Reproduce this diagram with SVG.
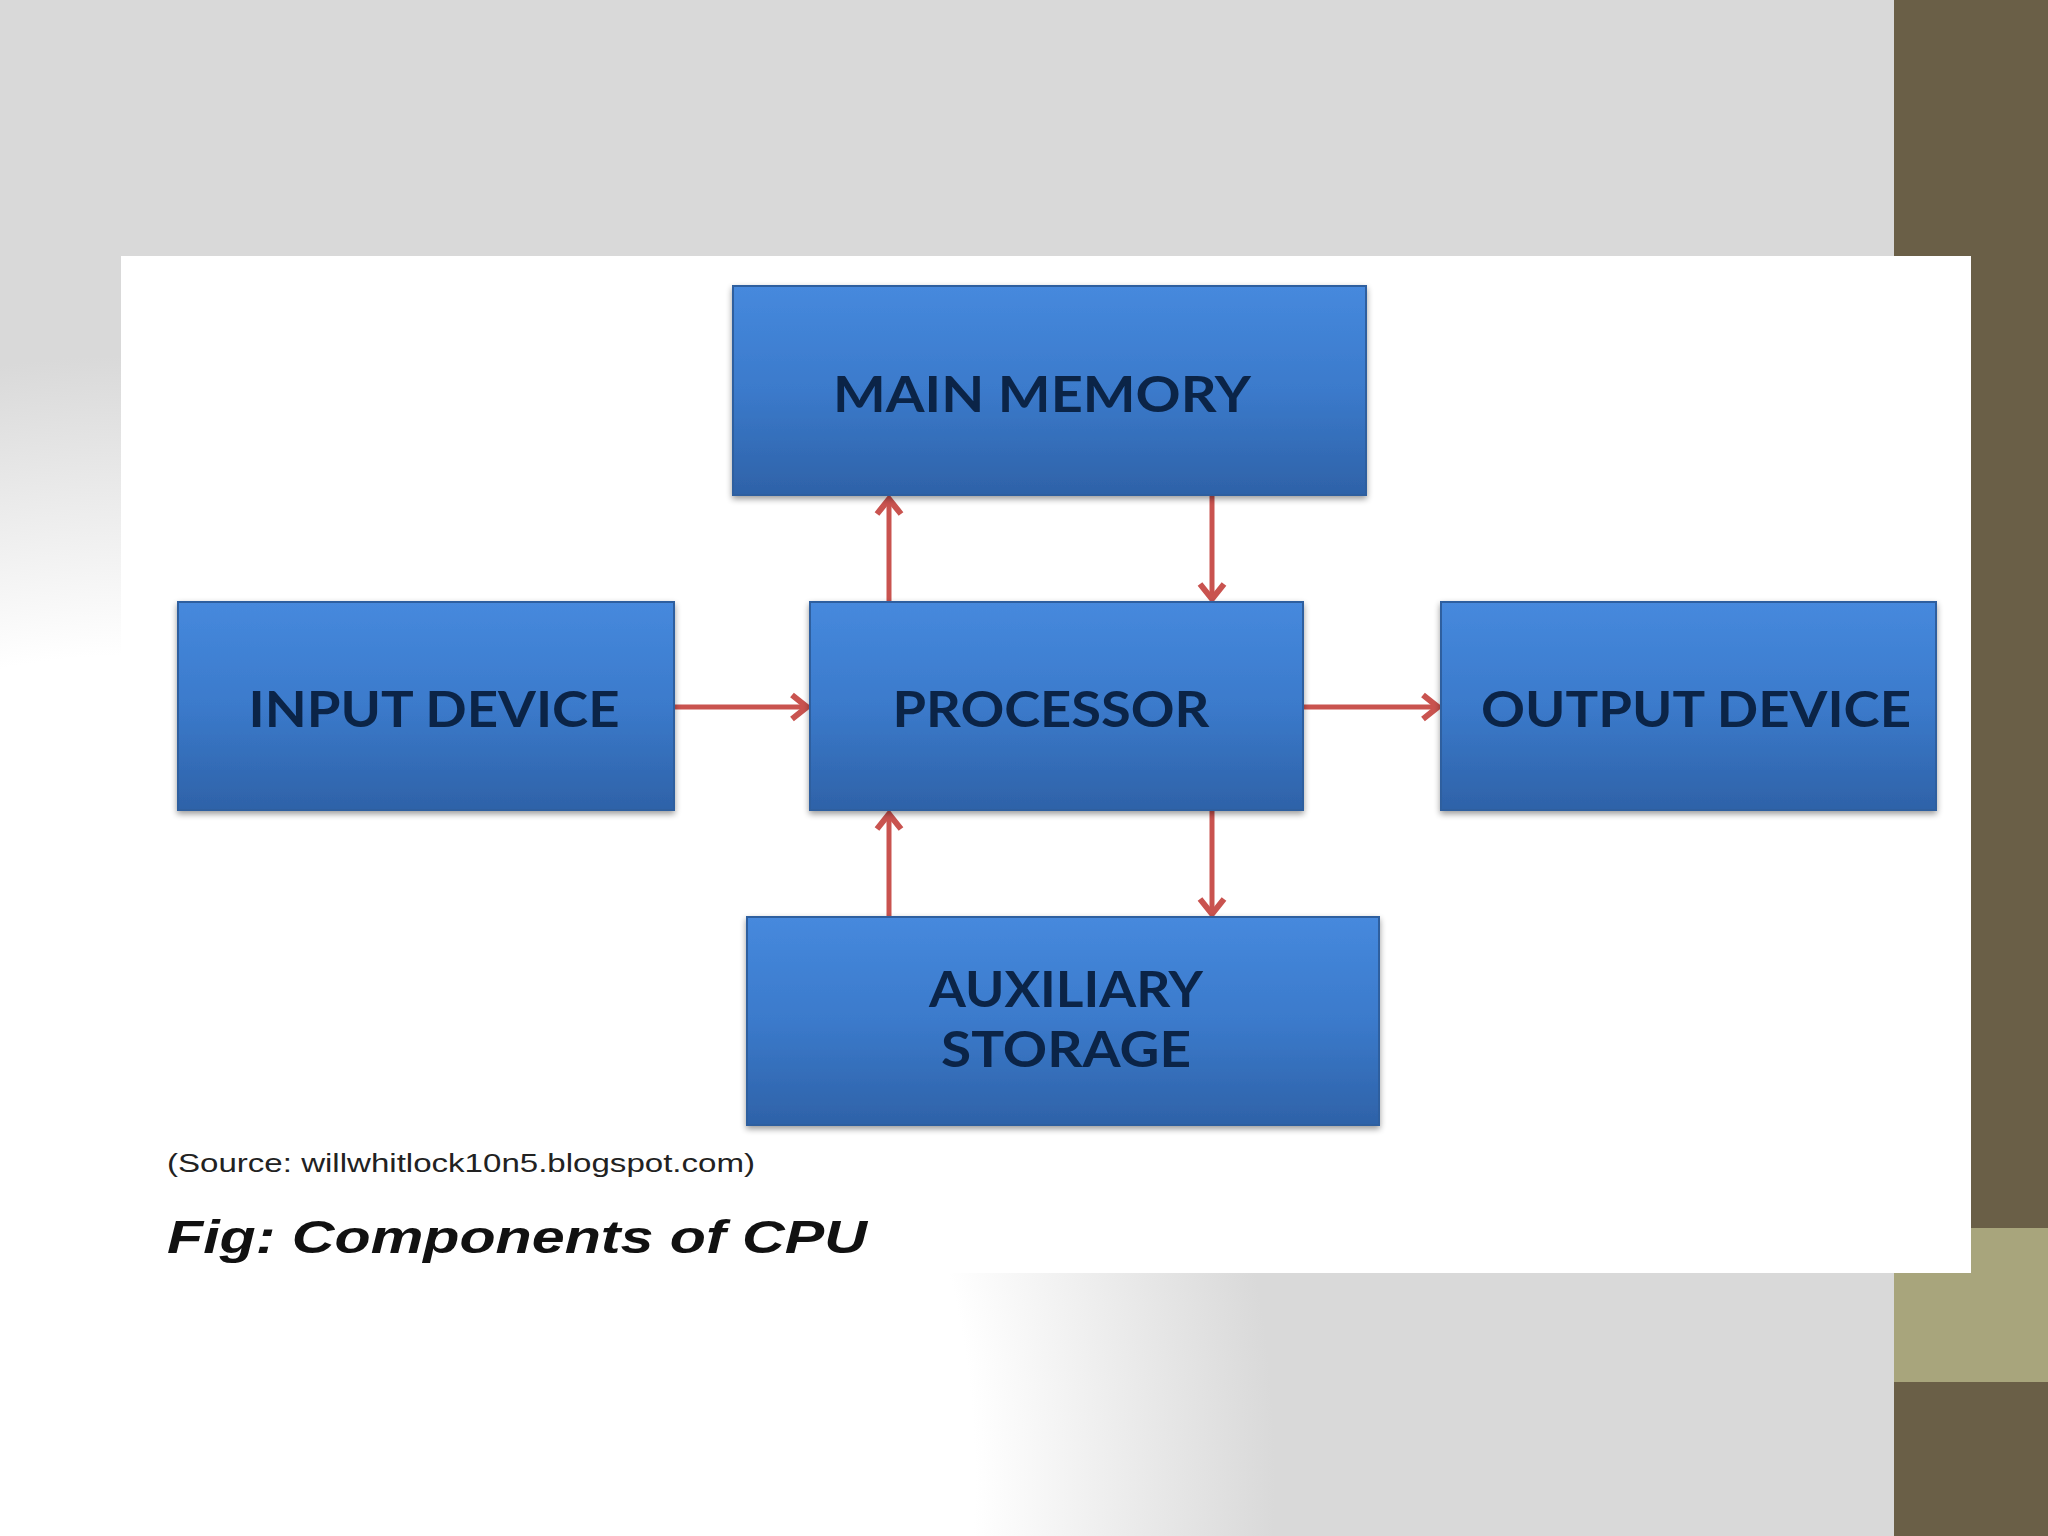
<svg xmlns="http://www.w3.org/2000/svg" width="2048" height="1536" viewBox="0 0 2048 1536">
<defs>
<radialGradient id="bg" gradientUnits="userSpaceOnUse" cx="150" cy="1480" r="1250">
<stop offset="0" stop-color="#ffffff"/>
<stop offset="0.66" stop-color="#ffffff"/>
<stop offset="0.9" stop-color="#d9d9d9"/>
<stop offset="1" stop-color="#d9d9d9"/>
</radialGradient>
<linearGradient id="box" x1="0" y1="0" x2="0" y2="1">
<stop offset="0" stop-color="#4689dd"/>
<stop offset="0.5" stop-color="#3b7acb"/>
<stop offset="1" stop-color="#2e62a8"/>
</linearGradient>
<filter id="sh" x="-5%" y="-5%" width="110%" height="115%">
<feGaussianBlur in="SourceAlpha" stdDeviation="3"/>
<feOffset dx="0" dy="3"/>
<feComponentTransfer><feFuncA type="linear" slope="0.4"/></feComponentTransfer>
<feMerge><feMergeNode/><feMergeNode in="SourceGraphic"/></feMerge>
</filter>
<marker id="ah" viewBox="0 0 30 30" refX="25" refY="15" markerWidth="30" markerHeight="30" markerUnits="userSpaceOnUse" orient="auto">
<path d="M10,3 L25,15 L10,27" fill="none" stroke="#c9534f" stroke-width="6" stroke-linejoin="miter"/>
</marker>
</defs>
<style>
.box{fill:url(#box);stroke:#2d5f9f;stroke-width:2;filter:url(#sh)}
.lbl{font-family:Lato,"Open Sans","DejaVu Sans",sans-serif;font-weight:bold;font-size:50px;fill:#0b2447;text-anchor:middle}
.con{stroke:#c9534f;stroke-width:5;fill:none;marker-end:url(#ah)}
</style>
<rect x="0" y="0" width="2048" height="1536" fill="url(#bg)"/>
<rect x="1894" y="0" width="154" height="1536" fill="#6a5f47"/>
<rect x="1894" y="1228" width="154" height="154" fill="#a8a57c"/>
<rect x="121" y="256" width="1850" height="1017" fill="#ffffff"/>

<g id="connectors">
<line class="con" x1="889" y1="602" x2="889" y2="499"/>
<line class="con" x1="1212" y1="496" x2="1212" y2="599"/>
<line class="con" x1="674" y1="707" x2="807" y2="707"/>
<line class="con" x1="1303" y1="707" x2="1438" y2="707"/>
<line class="con" x1="889" y1="917" x2="889" y2="814"/>
<line class="con" x1="1212" y1="811" x2="1212" y2="914"/>
</g>

<g id="main-memory">
<rect class="box" x="733" y="286" width="633" height="209"/>
<text class="lbl" x="1042" y="412" textLength="418" lengthAdjust="spacingAndGlyphs">MAIN MEMORY</text>
</g>
<g id="input-device">
<rect class="box" x="178" y="602" width="496" height="208"/>
<text class="lbl" x="434" y="727" textLength="371" lengthAdjust="spacingAndGlyphs">INPUT DEVICE</text>
</g>
<g id="processor">
<rect class="box" x="810" y="602" width="493" height="208"/>
<text class="lbl" x="1051" y="727" textLength="317" lengthAdjust="spacingAndGlyphs">PROCESSOR</text>
</g>
<g id="output-device">
<rect class="box" x="1441" y="602" width="495" height="208"/>
<text class="lbl" x="1696" y="727" textLength="430" lengthAdjust="spacingAndGlyphs">OUTPUT DEVICE</text>
</g>
<g id="auxiliary-storage">
<rect class="box" x="747" y="917" width="632" height="208"/>
<text class="lbl" x="1066" y="1007" textLength="274" lengthAdjust="spacingAndGlyphs">AUXILIARY</text>
<text class="lbl" x="1066" y="1067" textLength="250" lengthAdjust="spacingAndGlyphs">STORAGE</text>
</g>

<text x="167" y="1172" font-family="'Liberation Sans',Arial,sans-serif" font-size="26" fill="#222222" textLength="588" lengthAdjust="spacingAndGlyphs">(Source: willwhitlock10n5.blogspot.com)</text>
<text x="167" y="1253" font-family="'Liberation Sans',Arial,sans-serif" font-size="47" font-weight="bold" font-style="italic" fill="#111111" textLength="700" lengthAdjust="spacingAndGlyphs">Fig: Components of CPU</text>
</svg>
